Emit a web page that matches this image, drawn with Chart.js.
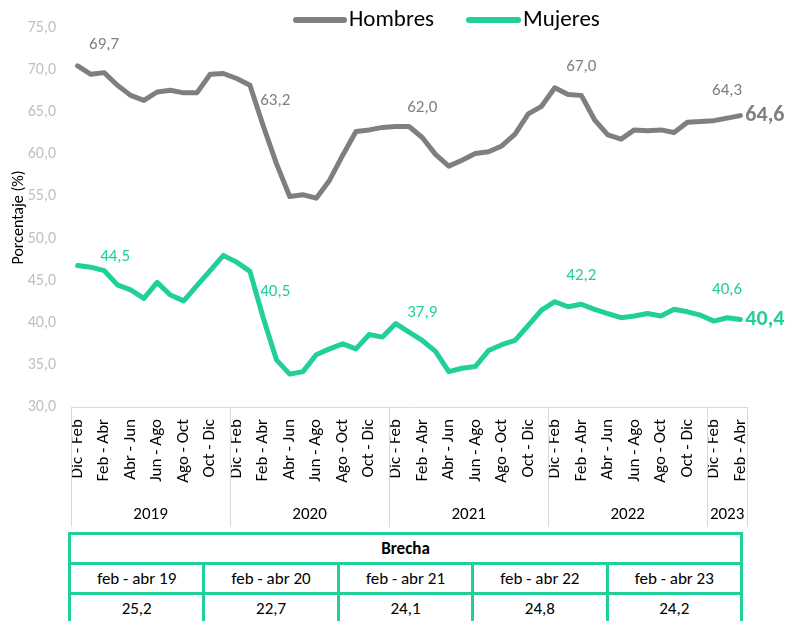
<!DOCTYPE html>
<html>
<head>
<meta charset="utf-8">
<script src="https://cdn.jsdelivr.net/npm/chart.js@4"></script>
<style>
  body { margin: 0; background: #fff; font-family: Carlito, Lato, sans-serif; }
  #wrap { position: relative; width: 788px; height: 621px; overflow: hidden; }
  #chart { position: absolute; left: 0; top: 0; }
  #brecha { position: absolute; left: 68px; top: 532px; width: 675px; border-collapse: collapse; font-size: 17px; color: #000; }
  #brecha td { border: 3px solid #20cf9a; text-align: center; height: 27px; padding: 0; }
</style>
</head>
<body>
<div id="wrap">
  <canvas id="chart" width="788" height="530"></canvas>
  <table id="brecha"></table>
</div>
<script>
// trimestres moviles, dic-feb 2019 .. feb-abr 2023
const categories = [
  'Dic - Feb','Ene - Mar','Feb - Abr','Mar - May','Abr - Jun','May - Jul','Jun - Ago','Jul - Sep','Ago - Oct','Sep - Nov','Oct - Dic','Nov - Ene',
  'Dic - Feb','Ene - Mar','Feb - Abr','Mar - May','Abr - Jun','May - Jul','Jun - Ago','Jul - Sep','Ago - Oct','Sep - Nov','Oct - Dic','Nov - Ene',
  'Dic - Feb','Ene - Mar','Feb - Abr','Mar - May','Abr - Jun','May - Jul','Jun - Ago','Jul - Sep','Ago - Oct','Sep - Nov','Oct - Dic','Nov - Ene',
  'Dic - Feb','Ene - Mar','Feb - Abr','Mar - May','Abr - Jun','May - Jul','Jun - Ago','Jul - Sep','Ago - Oct','Sep - Nov','Oct - Dic','Nov - Ene',
  'Dic - Feb','Ene - Mar','Feb - Abr'
];
const years = ['2019', '2020', '2021', '2022', '2023'];
const yearStart = [0, 12, 24, 36, 48];

const hombres = [
  70.5, 69.5, 69.7, 68.2, 67.0, 66.4, 67.4, 67.6, 67.3, 67.3, 69.5, 69.6,
  69.0, 68.2, 63.4, 58.9, 55.0, 55.2, 54.8, 56.9, 59.9, 62.7, 62.9, 63.2,
  63.3, 63.3, 62.0, 60.0, 58.6, 59.3, 60.1, 60.3, 61.0, 62.4, 64.8, 65.7,
  67.9, 67.1, 67.0, 64.1, 62.3, 61.8, 62.9, 62.8, 62.9, 62.6, 63.8, 63.9,
  64.0, 64.3, 64.6
];
const mujeres = [
  46.8, 46.6, 46.2, 44.5, 43.9, 42.9, 44.8, 43.3, 42.6, 44.4, 46.2, 48.0,
  47.2, 46.1, 40.6, 35.6, 33.9, 34.2, 36.2, 36.9, 37.5, 36.9, 38.6, 38.3,
  39.9, 38.9, 37.9, 36.6, 34.2, 34.6, 34.8, 36.7, 37.4, 37.9, 39.7, 41.5,
  42.5, 41.9, 42.2, 41.6, 41.1, 40.6, 40.8, 41.1, 40.8, 41.6, 41.3, 40.9,
  40.2, 40.6, 40.4
];

// etiquetas de datos mostradas en el grafico
const labelIdx = [2, 14, 26, 38, 49];
const hombresLabels = ['69,7', '63,2', '62,0', '67,0', '64,3'];
const mujeresLabels = ['44,5', '40,5', '37,9', '42,2', '40,6'];
const hombresLast = '64,6';
const mujeresLast = '40,4';

const brechaPeriodos = ['feb - abr 19', 'feb - abr 20', 'feb - abr 21', 'feb - abr 22', 'feb - abr 23'];
const brechaValores = ['25,2', '22,7', '24,1', '24,8', '24,2'];

const GRAY = '#7f7f7f';
const TEAL = '#20cf9a';
const FONT = 'Carlito, Lato, sans-serif';

// tabla de brecha
const tbl = document.getElementById('brecha');
tbl.innerHTML =
  '<tr><td colspan="5"><b>Brecha</b></td></tr>' +
  '<tr>' + brechaPeriodos.map(p => '<td>' + p + '</td>').join('') + '</tr>' +
  '<tr>' + brechaValores.map(v => '<td>' + v + '</td>').join('') + '</tr>';

// años y separadores bajo el eje x
const yearRow = {
  id: 'yearRow',
  afterDraw(chart) {
    const x = chart.scales.x;
    const ctx = chart.ctx;
    const edges = yearStart.map(i => i === 0 ? x.left : (x.getPixelForTick(i - 1) + x.getPixelForTick(i)) / 2);
    edges.push(x.right);
    ctx.save();
    ctx.strokeStyle = '#d9d9d9';
    ctx.lineWidth = 1;
    edges.forEach(e => {
      const px = Math.round(e) + 0.5;
      ctx.beginPath();
      ctx.moveTo(px, x.top);
      ctx.lineTo(px, 527);
      ctx.stroke();
    });
    ctx.fillStyle = '#000';
    ctx.font = '17px ' + FONT;
    ctx.textAlign = 'center';
    ctx.textBaseline = 'middle';
    years.forEach((y, k) => ctx.fillText(y, (edges[k] + edges[k + 1]) / 2, 515));
    ctx.restore();
  }
};

// leyenda arriba
const topLegend = {
  id: 'topLegend',
  afterDraw(chart) {
    const ctx = chart.ctx;
    ctx.save();
    ctx.lineCap = 'round';
    ctx.lineWidth = 6;
    ctx.font = '23px ' + FONT;
    ctx.textBaseline = 'middle';
    ctx.fillStyle = '#000';
    const items = [[chart.data.datasets[0], 296, 344, 349], [chart.data.datasets[1], 469, 518, 523]];
    items.forEach(([ds, x0, x1, tx]) => {
      ctx.strokeStyle = ds.borderColor;
      ctx.beginPath();
      ctx.moveTo(x0, 20);
      ctx.lineTo(x1, 20);
      ctx.stroke();
      ctx.fillText(ds.label, tx, 20);
    });
    ctx.restore();
  }
};

// etiquetas de valores
const valueLabels = {
  id: 'valueLabels',
  afterDatasetsDraw(chart) {
    const ctx = chart.ctx;
    const sets = [
      { meta: chart.getDatasetMeta(0), texts: hombresLabels, last: hombresLast, color: GRAY,
        off: [[0, -28, 'center'], [-3, -25, 'left'], [0, -30, 'center'], [0, -29, 'center'], [0, -27, 'center']] },
      { meta: chart.getDatasetMeta(1), texts: mujeresLabels, last: mujeresLast, color: TEAL,
        off: [[-4, -14, 'left'], [-3, -26, 'left'], [0, -28, 'center'], [0, -28, 'center'], [0, -28, 'center']] }
    ];
    ctx.save();
    ctx.textBaseline = 'middle';
    sets.forEach(s => {
      ctx.fillStyle = s.color;
      ctx.font = '17px ' + FONT;
      labelIdx.forEach((idx, k) => {
        const p = s.meta.data[idx];
        const [dx, dy, al] = s.off[k];
        ctx.textAlign = al;
        ctx.fillText(s.texts[k], p.x + dx, p.y + dy);
      });
      const lp = s.meta.data[s.meta.data.length - 1];
      ctx.font = 'bold 22px ' + FONT;
      ctx.textAlign = 'left';
      ctx.fillText(s.last, lp.x + 5, lp.y);
    });
    ctx.restore();
  }
};

new Chart(document.getElementById('chart'), {
  type: 'line',
  data: {
    labels: categories,
    datasets: [
      { label: 'Hombres', data: hombres, borderColor: GRAY, backgroundColor: GRAY },
      { label: 'Mujeres', data: mujeres, borderColor: TEAL, backgroundColor: TEAL }
    ]
  },
  options: {
    responsive: false,
    animation: false,
    layout: { padding: { top: 28, right: 41, left: 0, bottom: 0 } },
    elements: {
      line: { borderWidth: 5, tension: 0, borderCapStyle: 'round', borderJoinStyle: 'round' },
      point: { radius: 0, hoverRadius: 0 }
    },
    plugins: {
      legend: { display: false },
      tooltip: { enabled: false }
    },
    scales: {
      x: {
        offset: true,
        grid: { display: false, drawTicks: false },
        border: { display: true, color: '#d9d9d9' },
        ticks: {
          autoSkip: false,
          maxRotation: 90,
          minRotation: 90,
          padding: 12,
          color: '#000',
          font: { family: FONT, size: 17 },
          callback: function(v, i) { return i % 2 === 0 ? this.getLabelForValue(v) : ''; }
        },
        afterFit: s => { s.height = 123; }
      },
      y: {
        min: 30,
        max: 75,
        grid: { display: false, drawTicks: false },
        border: { display: false },
        ticks: {
          stepSize: 5,
          padding: 15,
          color: '#bfbfbf',
          font: { family: FONT, size: 16 },
          callback: v => v.toFixed(1).replace('.', ',')
        },
        title: {
          display: true,
          text: 'Porcentaje (%)',
          color: '#000',
          font: { family: FONT, size: 16 },
          padding: { top: 9, bottom: 0 }
        },
        afterFit: s => { s.width = 71; }
      }
    }
  },
  plugins: [yearRow, topLegend, valueLabels]
});
</script>
</body>
</html>
